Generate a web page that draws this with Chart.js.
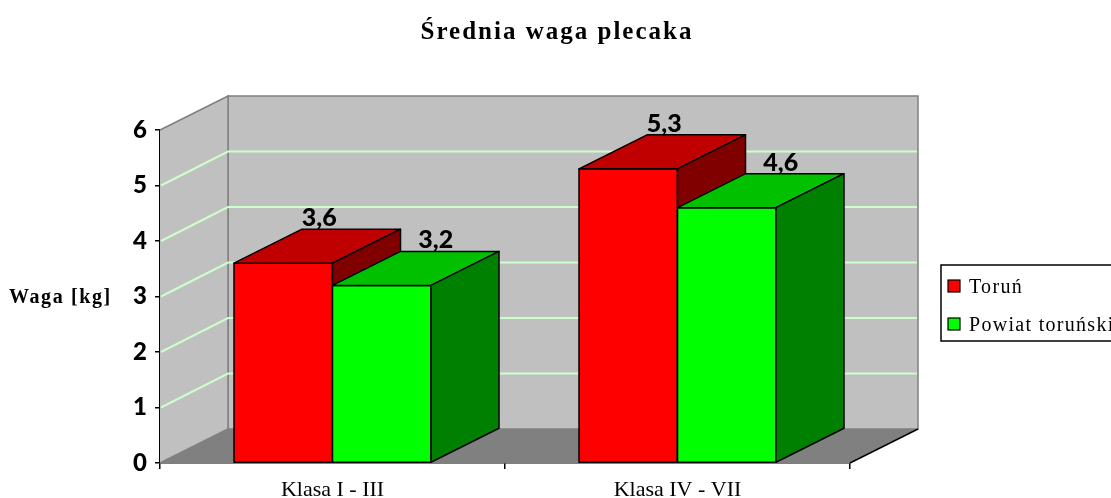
<!DOCTYPE html>
<html>
<head>
<meta charset="utf-8">
<script src="https://cdn.jsdelivr.net/npm/chart.js@4.4.0/dist/chart.umd.min.js"></script>
<style>
    body { margin: 0; background: #fff; }
    #wrap { width: 1111px; height: 498px; }
</style>
</head>
<body>
<div id="wrap"><canvas id="myChart" width="1111" height="498"></canvas></div>
<script>
// dane wykresu
const categories = ['Klasa I - III', 'Klasa IV - VII'];
const seriesNames = ['Toruń', 'Powiat toruński'];
const torunValues = [3.6, 5.3];
const powiatValues = [3.2, 4.6];
const yTickValues = [0, 1, 2, 3, 4, 5, 6];

const chartTitle = 'Średnia waga plecaka';
const yAxisTitle = 'Waga [kg]';

// przesuniecie "glebi" 3D
const DX = 68, DY = -34;

function poly(ctx, pts, fill, stroke, lw) {
    ctx.beginPath();
    ctx.moveTo(pts[0][0], pts[0][1]);
    for (let i = 1; i < pts.length; i++) ctx.lineTo(pts[i][0], pts[i][1]);
    ctx.closePath();
    if (fill) { ctx.fillStyle = fill; ctx.fill(); }
    if (stroke) { ctx.strokeStyle = stroke; ctx.lineWidth = lw || 1; ctx.stroke(); }
}

const box3d = {
    id: 'box3d',
    beforeDatasetsDraw(chart) {
        const ctx = chart.ctx;
        const a = chart.chartArea;
        const y = chart.scales.y;
        ctx.save();
        // tylna sciana
        poly(ctx, [[a.left + DX, a.top + DY], [a.right + DX, a.top + DY], [a.right + DX, a.bottom + DY], [a.left + DX, a.bottom + DY]], '#c0c0c0', '#808080', 1.5);
        // podloga
        poly(ctx, [[a.left, a.bottom], [a.right, a.bottom], [a.right + DX, a.bottom + DY], [a.left + DX, a.bottom + DY]], '#808080');
        // lewa sciana
        poly(ctx, [[a.left, a.bottom], [a.left, a.top], [a.left + DX, a.top + DY], [a.left + DX, a.bottom + DY]], '#c0c0c0');
        ctx.strokeStyle = '#808080';
        ctx.lineWidth = 1.5;
        ctx.beginPath();
        ctx.moveTo(a.left, a.top); ctx.lineTo(a.left + DX, a.top + DY); ctx.lineTo(a.left + DX, a.bottom + DY);
        ctx.moveTo(a.left, a.bottom); ctx.lineTo(a.left + DX, a.bottom + DY);
        ctx.stroke();
        // linie siatki
        ctx.strokeStyle = '#ccffcc';
        ctx.lineWidth = 2;
        yTickValues.forEach(v => {
            if (v === 0 || v === yTickValues[yTickValues.length - 1]) return;
            const py = y.getPixelForValue(v);
            ctx.beginPath();
            ctx.moveTo(a.left + 1, py);
            ctx.lineTo(a.left + DX, py + DY);
            ctx.lineTo(a.right + DX - 1, py + DY);
            ctx.stroke();
        });
        // prawa krawedz podlogi
        ctx.strokeStyle = '#000';
        ctx.lineWidth = 1.5;
        ctx.beginPath();
        ctx.moveTo(a.right, a.bottom); ctx.lineTo(a.right + DX, a.bottom + DY);
        ctx.stroke();
        ctx.restore();
    },
    afterDatasetsDraw(chart) {
        const ctx = chart.ctx;
        ctx.save();
        ctx.lineJoin = 'round';
        // slupki 3D: najpierw Toruń, potem Powiat (kolejnosc zaslaniania)
        chart.data.datasets.forEach((ds, i) => {
            chart.getDatasetMeta(i).data.forEach(bar => {
                const p = bar.getProps(['x', 'y', 'base', 'width'], true);
                const l = p.x - p.width / 2, r = p.x + p.width / 2;
                poly(ctx, [[l, p.y], [r, p.y], [r, p.base], [l, p.base]], ds.backgroundColor, '#000', 1.5);
                poly(ctx, [[l, p.y], [l + DX, p.y + DY], [r + DX, p.y + DY], [r, p.y]], ds.topColor, '#000', 1.5);
                poly(ctx, [[r, p.y], [r + DX, p.y + DY], [r + DX, p.base + DY], [r, p.base]], ds.sideColor, '#000', 1.5);
            });
        });
        // etykiety wartosci
        ctx.fillStyle = '#000';
        ctx.font = '900 25px Lato';
        ctx.textAlign = 'center';
        ctx.textBaseline = 'alphabetic';
        chart.data.datasets.forEach((ds, i) => {
            chart.getDatasetMeta(i).data.forEach((bar, j) => {
                const p = bar.getProps(['x', 'y'], true);
                ctx.fillText(String(ds.data[j]).replace('.', ','), p.x + ds.labelShift, p.y - 37);
            });
        });
        ctx.restore();
    },
    afterDraw(chart) {
        const ctx = chart.ctx;
        ctx.save();
        ctx.fillStyle = '#000';
        // tytul
        ctx.font = 'bold 25px "Liberation Serif"';
        ctx.letterSpacing = '2px';
        ctx.textAlign = 'center';
        ctx.fillText(chartTitle, 557, 39);
        // tytul osi Y
        ctx.font = 'bold 20px "Liberation Serif"';
        ctx.letterSpacing = '1.6px';
        ctx.textAlign = 'left';
        ctx.fillText(yAxisTitle, 9, 303);
        // legenda
        ctx.letterSpacing = '0px';
        ctx.fillStyle = '#fff';
        ctx.fillRect(941, 265, 200, 76);
        ctx.strokeStyle = '#000';
        ctx.lineWidth = 1.5;
        ctx.strokeRect(941, 265, 200, 76);
        ctx.font = '20px "Liberation Serif"';
        ctx.letterSpacing = '1.3px';
        chart.data.datasets.forEach((ds, i) => {
            const ty = 286 + i * 38;
            ctx.fillStyle = ds.backgroundColor;
            ctx.fillRect(948, ty - 6, 12, 12);
            ctx.lineWidth = 1.2;
            ctx.strokeRect(948, ty - 6, 12, 12);
            ctx.fillStyle = '#000';
            ctx.fillText(ds.label, 969, ty + 7);
        });
        ctx.restore();
    }
};

const ctxBar = document.getElementById('myChart').getContext('2d');
const myChart = new Chart(ctxBar, {
    type: 'bar',
    data: {
        labels: categories,
        datasets: [{
            label: seriesNames[0],
            data: torunValues,
            backgroundColor: '#ff0000',
            topColor: '#c00000',
            sideColor: '#800000',
            labelShift: 36,
            borderColor: '#000',
            borderWidth: 1.5,
            borderSkipped: false
        }, {
            label: seriesNames[1],
            data: powiatValues,
            backgroundColor: '#00ff00',
            topColor: '#00c000',
            sideColor: '#008000',
            labelShift: 54,
            borderColor: '#000',
            borderWidth: 1.5,
            borderSkipped: false
        }]
    },
    options: {
        responsive: false,
        animation: false,
        categoryPercentage: 0.571,
        barPercentage: 1.0,
        layout: { padding: { top: 130, right: 261, left: 0, bottom: 0 } },
        plugins: {
            legend: { display: false },
            title: { display: false },
            tooltip: { enabled: false }
        },
        scales: {
            x: {
                afterFit: s => { s.height = 35; },
                grid: { offset: true, drawOnChartArea: false, tickLength: 6, color: '#000', lineWidth: 1.5 },
                border: { color: '#000', width: 1.5 },
                ticks: { color: '#000', font: { family: 'Liberation Serif', size: 22 }, padding: 8 }
            },
            y: {
                min: 0,
                max: 6,
                afterFit: s => { s.width = 160; },
                afterBuildTicks: s => { s.ticks = yTickValues.map(v => ({ value: v })); },
                grid: { drawOnChartArea: false, tickLength: 5, color: '#000', lineWidth: 1.5 },
                border: { color: '#000', width: 1.5 },
                ticks: { color: '#000', font: { family: 'Lato', size: 24, weight: 900 }, padding: 8 }
            }
        }
    },
    plugins: [box3d]
});
</script>
</body>
</html>
